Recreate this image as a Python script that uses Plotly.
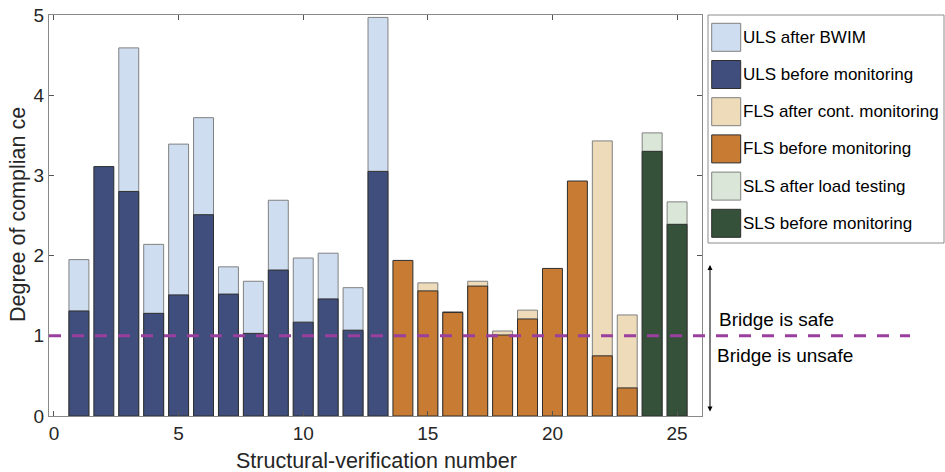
import plotly.graph_objects as go

# ---------------- data ----------------
uls_x = list(range(1, 14))
uls_before = [1.31, 3.11, 2.80, 1.28, 1.51, 2.51, 1.52, 1.03, 1.82, 1.17, 1.46, 1.07, 3.05]
uls_after = [1.95, None, 4.59, 2.14, 3.39, 3.72, 1.86, 1.68, 2.69, 1.97, 2.03, 1.60, 4.97]

fls_x = list(range(14, 24))
fls_before = [1.94, 1.56, 1.29, 1.62, 1.01, 1.21, 1.84, 2.93, 0.75, 0.35]
fls_after = [None, 1.66, 1.30, 1.68, 1.06, 1.32, None, None, 3.43, 1.26]

sls_x = [24, 25]
sls_before = [3.30, 2.39]
sls_after = [3.53, 2.67]

threshold = 1.0
x_ticks = [0, 5, 10, 15, 20, 25]
y_ticks = [0, 1, 2, 3, 4, 5]

legend_names = ["ULS after BWIM", "ULS before monitoring", "FLS after cont. monitoring",
                "FLS before monitoring", "SLS after load testing", "SLS before monitoring"]

# ---------------- styles ----------------
C_ULS_A, C_ULS_B = "#cfddf0", "#3f4e7c"
C_FLS_A, C_FLS_B = "#eddbb9", "#c77b33"
C_SLS_A, C_SLS_B = "#d9e6d8", "#35513a"
EDGE_LIGHT, EDGE_DARK = "#808080", "#2e2e2e"
FONT = "Liberation Sans, Arial, sans-serif"
TXT = "#262626"

W, H = 945, 472
PL, PT, PW, PH = 49, 15, 653, 401  # plot area in pixels
ML, MT = PL, PT
MR = W - ML - PW
MB = H - MT - PH


def px(x):
    return (x - PL) / PW


def py(y):
    return (PT + PH - y) / PH


fig = go.Figure()
series = [
    (uls_x, uls_after, legend_names[0], C_ULS_A, EDGE_LIGHT),
    (fls_x, fls_after, legend_names[2], C_FLS_A, EDGE_LIGHT),
    (sls_x, sls_after, legend_names[4], C_SLS_A, EDGE_LIGHT),
    (uls_x, uls_before, legend_names[1], C_ULS_B, EDGE_DARK),
    (fls_x, fls_before, legend_names[3], C_FLS_B, EDGE_DARK),
    (sls_x, sls_before, legend_names[5], C_SLS_B, EDGE_DARK),
]
for xs, ys, name, col, edge in series:
    fig.add_trace(go.Bar(x=xs, y=ys, name=name, marker=dict(color=col, line=dict(color=edge, width=1)),
                         showlegend=False))

# threshold dashed line extending past the axes
fig.add_shape(type="line", xref="paper", yref="y", x0=0, x1=px(910), y0=threshold, y1=threshold,
              line=dict(color="#9b3f9f", width=3, dash="12px,11px"), layer="above")

# manual legend
fig.add_shape(type="rect", xref="paper", yref="paper", x0=px(708), x1=px(944), y0=py(15), y1=py(243),
              line=dict(color="#8c8c8c", width=1), fillcolor="white")
leg_cols = [C_ULS_A, C_ULS_B, C_FLS_A, C_FLS_B, C_SLS_A, C_SLS_B]
leg_edges = [EDGE_LIGHT, EDGE_DARK] * 3
for i, (nm, col, ed) in enumerate(zip(legend_names, leg_cols, leg_edges)):
    top = 23.3 + i * 37.2
    fig.add_shape(type="rect", xref="paper", yref="paper", x0=px(711.7), x1=px(740.7),
                  y0=py(top), y1=py(top + 28), line=dict(color=ed, width=1), fillcolor=col)
    fig.add_annotation(xref="paper", yref="paper", x=px(741), y=py(top + 14), text=nm,
                       showarrow=False, xanchor="left", yanchor="middle",
                       font=dict(family=FONT, size=17, color="black"))

# safe/unsafe annotations
fig.add_annotation(xref="paper", yref="paper", x=px(710), y=py(265), ax=0, ay=148,
                   text="", showarrow=True, arrowhead=2, arrowsize=1, arrowwidth=1,
                   arrowside="end+start", arrowcolor="black")
fig.add_annotation(xref="paper", yref="paper", x=px(717), y=py(319), text="Bridge is safe",
                   showarrow=False, xanchor="left", yanchor="middle",
                   font=dict(family=FONT, size=19, color="black"))
fig.add_annotation(xref="paper", yref="paper", x=px(715), y=py(355), text="Bridge is unsafe",
                   showarrow=False, xanchor="left", yanchor="middle",
                   font=dict(family=FONT, size=19, color="black"))

# axis titles
fig.add_annotation(xref="paper", yref="paper", x=px(377), y=py(461), text="Structural-verification number",
                   showarrow=False, xanchor="center", yanchor="middle",
                   font=dict(family=FONT, size=21.5, color=TXT))
fig.add_annotation(xref="paper", yref="paper", x=px(18), y=py(215), text="Degree of complian ce",
                   showarrow=False, xanchor="center", yanchor="middle", textangle=-90,
                   font=dict(family=FONT, size=21.5, color=TXT))

axis_common = dict(showline=True, linecolor="#8a8a8a", linewidth=1, mirror="ticks",
                   ticks="inside", ticklen=5, tickcolor="#555555", showgrid=False, zeroline=False,
                   tickfont=dict(family=FONT, size=19, color=TXT))
fig.update_xaxes(range=[-0.2, 26], tickvals=x_ticks, **axis_common)
fig.update_yaxes(range=[0, 5], tickvals=y_ticks, **axis_common)

fig.update_layout(width=W, height=H, margin=dict(l=ML, r=MR, t=MT, b=MB, autoexpand=False),
                  barmode="overlay", bargap=0.2, plot_bgcolor="white", paper_bgcolor="white",
                  font=dict(family=FONT, color=TXT))

fig.write_html("out.html", config={"displayModeBar": False},
               post_script="document.body.style.margin='0';document.body.style.padding='0';")
